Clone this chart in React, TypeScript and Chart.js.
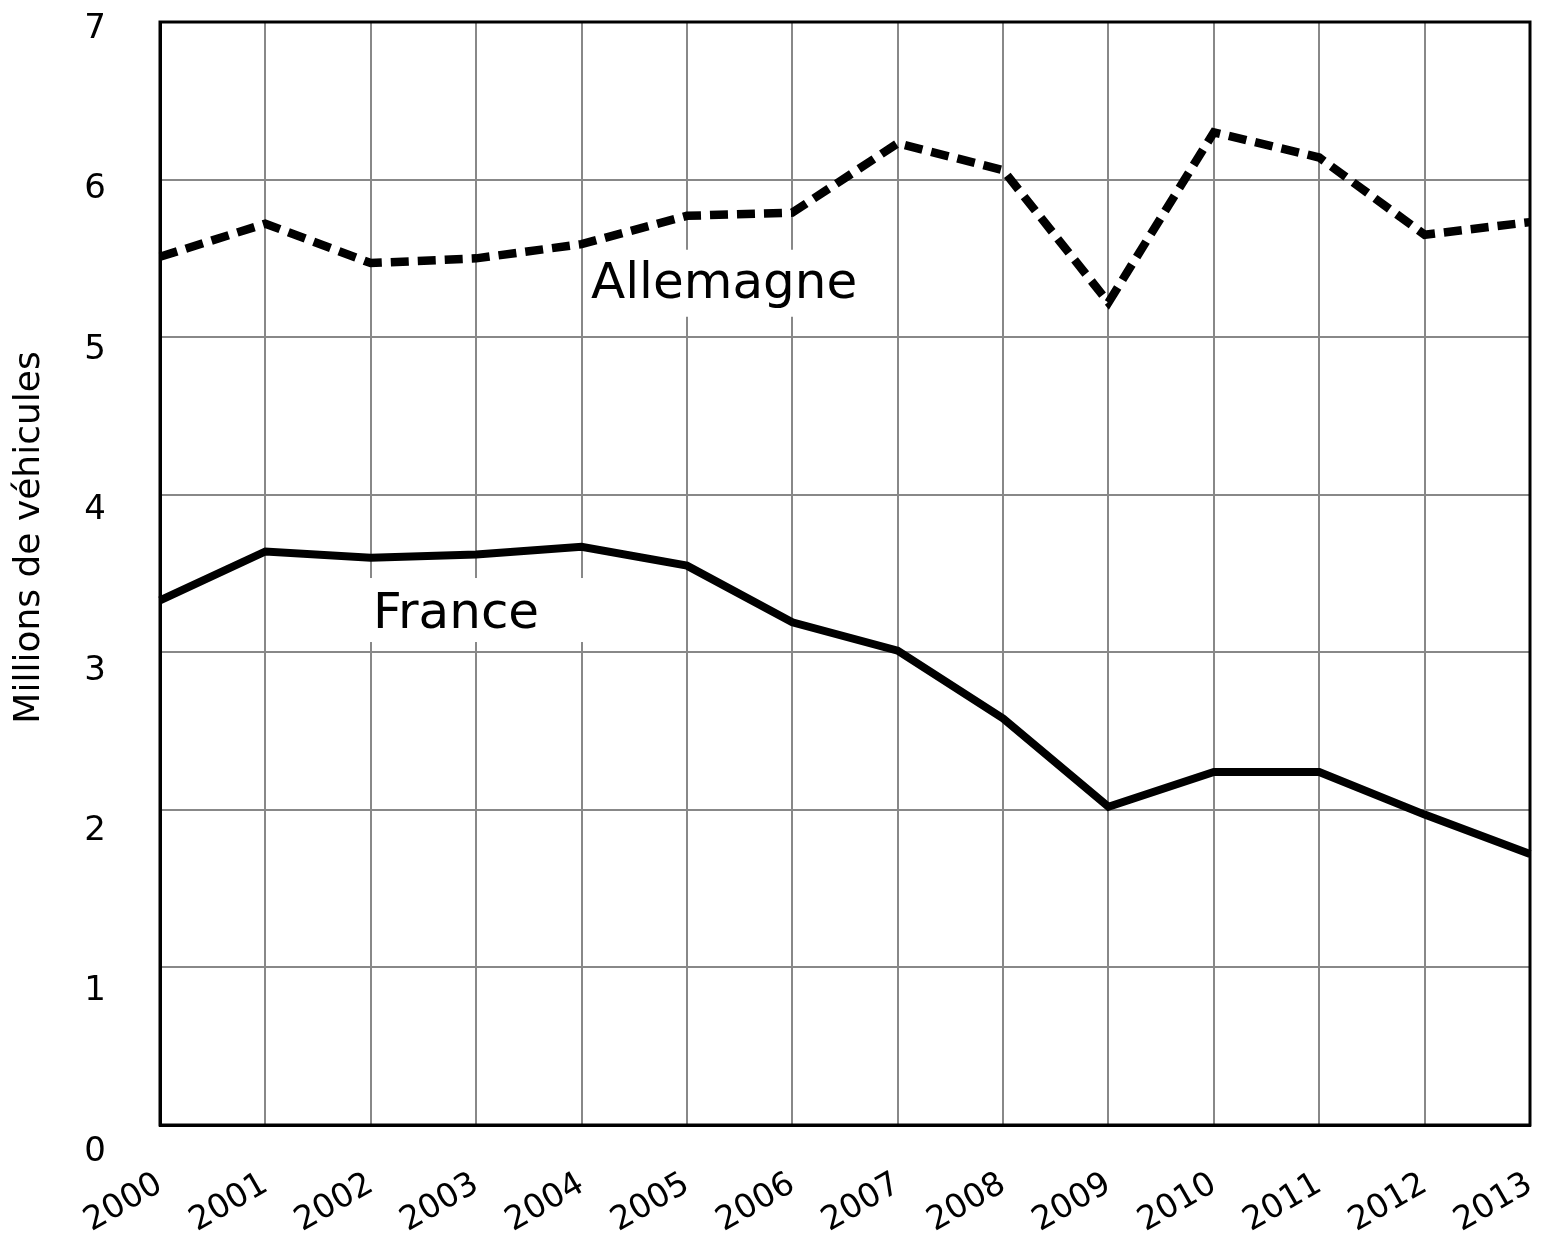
import React, { useEffect, useRef } from "react";
import { Chart, registerables } from "chart.js";

Chart.register(...registerables);

const years = ["2000", "2001", "2002", "2003", "2004", "2005", "2006", "2007", "2008", "2009", "2010", "2011", "2012", "2013"];
const allemagne = [5.51, 5.72, 5.47, 5.5, 5.59, 5.77, 5.79, 6.23, 6.06, 5.22, 6.3, 6.14, 5.65, 5.73];
const france = [3.33, 3.64, 3.6, 3.62, 3.67, 3.55, 3.19, 3.01, 2.58, 2.02, 2.24, 2.24, 1.97, 1.72];
const yTickValues = [0, 1, 2, 3, 4, 5, 6, 7];
const yTitle = "Millions de véhicules";
const seriesNames = ["Allemagne", "France"];

const FONT = "'DejaVu Sans', Verdana, sans-serif";

export default function App() {
  const ref = useRef<HTMLCanvasElement>(null);

  useEffect(() => {
    if (!ref.current) return;
    // annotation anchors (category index, value at text baseline)
    const annotations = [
      { text: seriesNames[0], xi: 4.09, yv: 5.25, padL: 7, padR: 9, padT: 48, padB: 19 },
      { text: seriesNames[1], xi: 2.02, yv: 3.154, padL: 10, padR: 48, padT: 50, padB: 14 },
    ];

    const decor = {
      id: "decor",
      beforeDatasetsDraw(chart: any) {
        const { ctx, chartArea } = chart;
        ctx.save();
        ctx.strokeStyle = "#000";
        ctx.lineWidth = 3;
        ctx.strokeRect(chartArea.left, chartArea.top, chartArea.right - chartArea.left, chartArea.bottom - chartArea.top);
        ctx.restore();
      },
      afterDatasetsDraw(chart: any) {
        const { ctx, scales } = chart;
        ctx.save();
        ctx.font = `50px ${FONT}`;
        ctx.textBaseline = "alphabetic";
        ctx.textAlign = "left";
        for (const a of annotations) {
          const x = scales.x.getPixelForValue(a.xi);
          const y = scales.y.getPixelForValue(a.yv);
          const w = ctx.measureText(a.text).width;
          ctx.fillStyle = "#fff";
          ctx.fillRect(x - a.padL, y - a.padT, w + a.padL + a.padR, a.padT + a.padB);
          ctx.fillStyle = "#000";
          ctx.fillText(a.text, x, y);
        }
        ctx.restore();
      },
      afterDraw(chart: any) {
        const { ctx, chartArea } = chart;
        ctx.save();
        ctx.translate(chartArea.left - 130, (chartArea.top + chartArea.bottom) / 2 - 36);
        ctx.rotate(-Math.PI / 2);
        ctx.font = `36px ${FONT}`;
        ctx.fillStyle = "#000";
        ctx.textAlign = "center";
        ctx.textBaseline = "middle";
        ctx.fillText(yTitle, 0, 0);
        ctx.restore();
      },
    };

    const chart = new Chart(ref.current, {
      type: "line",
      data: {
        labels: years,
        datasets: [
          {
            label: seriesNames[0],
            data: allemagne,
            borderColor: "#000",
            borderWidth: 8.5,
            borderDash: [18, 9],
            borderCapStyle: "butt",
            pointRadius: 0,
            tension: 0,
            fill: false,
          },
          {
            label: seriesNames[1],
            data: france,
            borderColor: "#000",
            borderWidth: 8,
            pointRadius: 0,
            tension: 0,
            fill: false,
          },
        ],
      },
      options: {
        animation: false,
        responsive: true,
        maintainAspectRatio: false,
        layout: { padding: { top: 14, right: 9, left: 0, bottom: 0 } },
        plugins: { legend: { display: false }, tooltip: { enabled: false } },
        scales: {
          x: {
            type: "category",
            offset: false,
            grid: { color: "#888", lineWidth: 2, drawTicks: false },
            border: { color: "#000", width: 3 },
            ticks: {
              font: { family: FONT, size: 33 },
              color: "#000",
              minRotation: 30,
              maxRotation: 30,
              autoSkip: false,
              padding: 40,
            },
            afterFit: (s: any) => {
              s.height = 117;
              s.paddingLeft = 0;
              s.paddingRight = 0;
            },
          },
          y: {
            type: "linear",
            position: "left",
            weight: 0,
            min: 0,
            max: 7,
            ticks: { display: false, stepSize: 1 },
            grid: { color: "#888", lineWidth: 2, drawTicks: false },
            border: { color: "#000", width: 3 },
            afterFit: (s: any) => {
              s.width = 0;
              s.paddingTop = 0;
              s.paddingBottom = 0;
            },
          },
          yLabels: {
            type: "linear",
            position: "left",
            weight: 1,
            min: 0.1683,
            max: 7.0436,
            grid: { display: false, drawTicks: false },
            border: { display: false },
            ticks: { font: { family: FONT, size: 34 }, color: "#000", padding: 54 },
            afterBuildTicks: (s: any) => {
              s.ticks = yTickValues.map((v) => ({ value: v }));
            },
            afterFit: (s: any) => {
              s.width = 152;
              s.paddingTop = 0;
              s.paddingBottom = 0;
            },
          },
        },
      },
      plugins: [decor],
    } as any);

    return () => chart.destroy();
  }, []);

  return (
    <div style={{ position: "relative", width: 1531, height: 1234 }}>
      <canvas ref={ref} />
    </div>
  );
}
